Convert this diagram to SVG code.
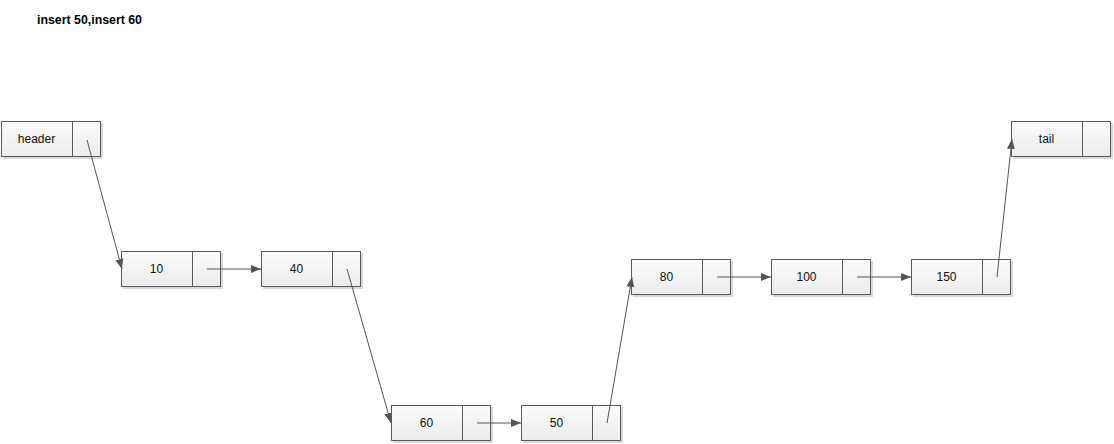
<svg xmlns="http://www.w3.org/2000/svg" width="1114" height="444" viewBox="0 0 1114 444">
<style>
.box{fill:url(#g);stroke:#5a5a5a;stroke-width:1}
.sh{fill:#d8d8d8}
.div{stroke:#5a5a5a;stroke-width:1}
.lbl{font-family:"Liberation Sans",Arial,sans-serif;font-size:12px;fill:#111;text-anchor:middle}
.title{font-family:"Liberation Sans",Arial,sans-serif;font-size:12px;font-weight:bold;fill:#000}
.con{stroke:#555;stroke-width:1;fill:none;marker-end:url(#ah)}
</style>
<defs>
<linearGradient id="g" x1="0" y1="0" x2="0" y2="1">
<stop offset="0" stop-color="#fbfbfb"/>
<stop offset="1" stop-color="#ececec"/>
</linearGradient>
<marker id="ah" viewBox="0 0 10 10" refX="10" refY="5" markerWidth="10" markerHeight="10" markerUnits="userSpaceOnUse" orient="auto">
<path d="M0,1 L10,5 L0,9 Z" fill="#555"/>
</marker>
<g id="node">
<rect class="sh" x="2" y="2" width="100" height="36"/>
<rect class="box" x="0.5" y="0.5" width="99" height="35"/>
<line class="div" x1="71.5" y1="0.5" x2="71.5" y2="35.5"/>
</g>
</defs>
<rect width="1114" height="444" fill="#fff"/>
<text class="title" x="37" y="24" textLength="105" lengthAdjust="spacingAndGlyphs">insert 50,insert 60</text>
<g id="n-header"><use href="#node" x="1" y="121"/><text class="lbl" x="36.5" y="143">header</text></g>
<g id="n-10"><use href="#node" x="121" y="251"/><text class="lbl" x="156.5" y="273">10</text></g>
<g id="n-40"><use href="#node" x="261" y="251"/><text class="lbl" x="296.5" y="273">40</text></g>
<g id="n-60"><use href="#node" x="391" y="405"/><text class="lbl" x="426.5" y="427">60</text></g>
<g id="n-50"><use href="#node" x="521" y="405"/><text class="lbl" x="556.5" y="427">50</text></g>
<g id="n-80"><use href="#node" x="631" y="259"/><text class="lbl" x="666.5" y="281">80</text></g>
<g id="n-100"><use href="#node" x="771" y="259"/><text class="lbl" x="806.5" y="281">100</text></g>
<g id="n-150"><use href="#node" x="911" y="259"/><text class="lbl" x="946.5" y="281">150</text></g>
<g id="n-tail"><use href="#node" x="1011" y="121"/><text class="lbl" x="1046.5" y="143">tail</text></g>
<g id="connectors">
<line class="con" x1="87" y1="140" x2="122" y2="269"/>
<line class="con" x1="207" y1="269" x2="261" y2="269"/>
<line class="con" x1="347" y1="269" x2="391" y2="423"/>
<line class="con" x1="477" y1="423" x2="521" y2="423"/>
<line class="con" x1="607" y1="423" x2="632" y2="277"/>
<line class="con" x1="717" y1="277" x2="771" y2="277"/>
<line class="con" x1="857" y1="277" x2="911" y2="277"/>
<line class="con" x1="997" y1="277" x2="1012" y2="139"/>
</g>
</svg>
